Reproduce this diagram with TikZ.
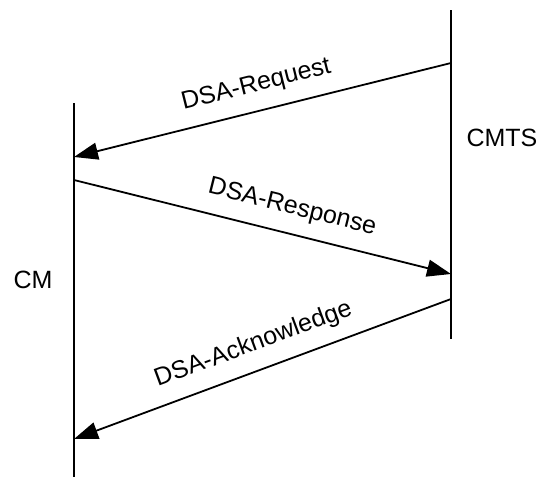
\documentclass[tikz,border=0pt]{standalone}
\usepackage{fontspec}
\setmainfont{Liberation Sans}
\usetikzlibrary{arrows.meta}
\begin{document}
\begin{tikzpicture}[x=1pt,y=-1pt,
  lifeline/.style={line width=1.8pt},
  msg/.style={line width=1.8pt,-{Triangle[length=24pt,width=17pt]}},
  lbl/.style={font=\fontsize{25}{30}\selectfont,inner sep=0pt},
  msglbl/.style={lbl,sloped,above=13.5pt}]
\useasboundingbox (0,0) rectangle (542,477);
% lifelines
\coordinate (cmtop) at (74,103);
\coordinate (cmbot) at (74,477);
\coordinate (cmtstop) at (451,10);
\coordinate (cmtsbot) at (451,339);
\draw[lifeline] (cmtop) -- (cmbot);
\draw[lifeline] (cmtstop) -- (cmtsbot);
% labels
\node[lbl] (cmts) at (502,137.5) {CMTS};
\node[lbl] (cm) at (33,280) {CM};
% message end points
\coordinate (reqs) at (451,63);
\coordinate (reqe) at (74,157);
\coordinate (rsps) at (74,180);
\coordinate (rspe) at (451,274);
\coordinate (acks) at (451,299);
\coordinate (acke) at (74,439);
\draw[msg] (reqs) -- node[msglbl,pos=0.5] (reqlbl) {DSA-Request} (reqe);
\draw[msg] (rsps) -- node[msglbl,pos=0.562] (rsplbl) {DSA-Response} (rspe);
\draw[msg] (acks) -- node[msglbl,pos=0.5] (acklbl) {DSA-Acknowledge} (acke);
\end{tikzpicture}
\end{document}
